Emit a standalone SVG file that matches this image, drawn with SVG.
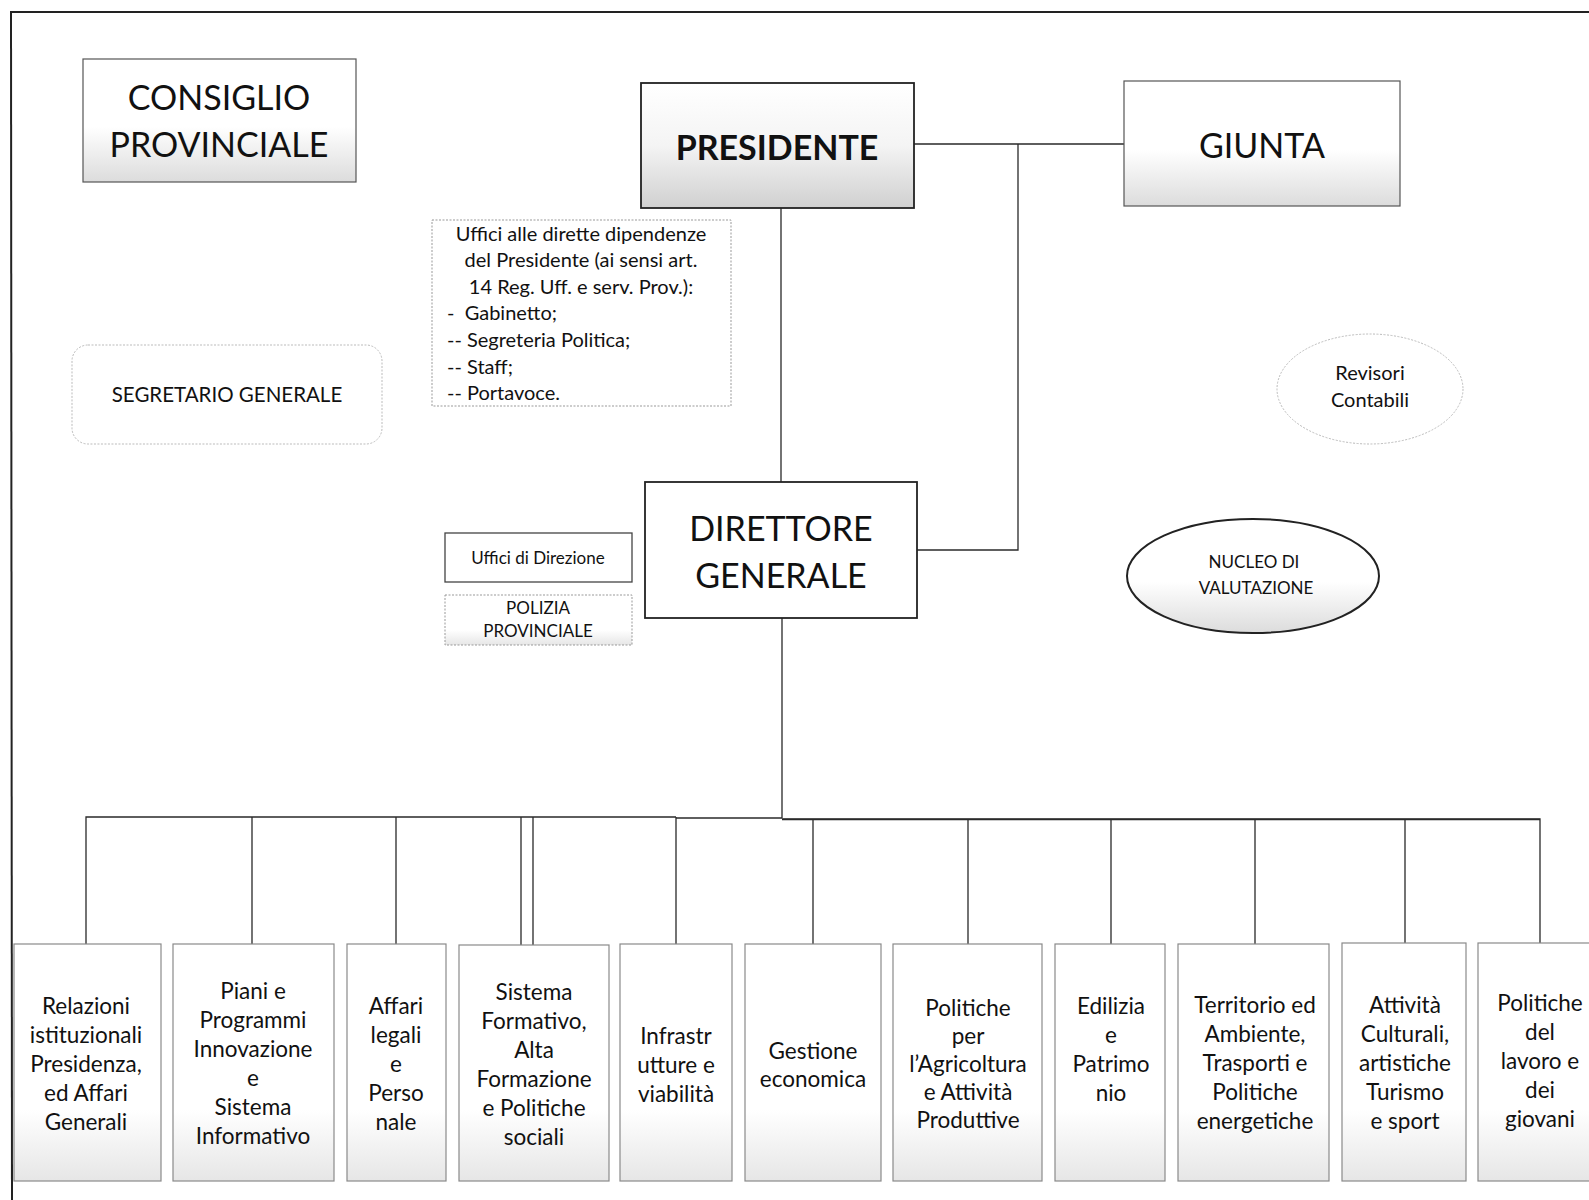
<svg xmlns="http://www.w3.org/2000/svg" width="1589" height="1200" viewBox="0 0 1589 1200">
<defs>
<linearGradient id="gLight" x1="0" y1="0" x2="0" y2="1">
<stop offset="0" stop-color="#ffffff"/><stop offset="0.55" stop-color="#ffffff"/><stop offset="1" stop-color="#dcdcdc"/>
</linearGradient>
<linearGradient id="gDark" x1="0" y1="0" x2="0" y2="1">
<stop offset="0" stop-color="#ffffff"/><stop offset="0.5" stop-color="#f4f4f4"/><stop offset="1" stop-color="#d0d0d0"/>
</linearGradient>
<linearGradient id="gBox" x1="0" y1="0" x2="0" y2="1">
<stop offset="0" stop-color="#ffffff"/><stop offset="0.7" stop-color="#ffffff"/><stop offset="1" stop-color="#e6e6e6"/>
</linearGradient>
</defs>
<style>
text{font-family:Lato,"Liberation Sans",sans-serif;fill:#111;text-anchor:middle}
.big{font-size:34px}
.bold{font-weight:bold}
.unit{font-size:22.5px}
.small{font-size:20px}
.seg{font-size:20.5px}
.tiny{font-size:17px}
.left{text-anchor:start;white-space:pre}
.box{stroke:#555;stroke-width:1.2}
.strong{stroke:#222;stroke-width:1.8}
.lbox{fill:url(#gBox);stroke:#8a8a8a;stroke-width:1.2}
.conn{fill:none;stroke:#2a2a2a;stroke-width:1.3}
</style>
<rect width="1589" height="1200" fill="#ffffff"/>
<g id="frame">
<line x1="11" y1="12" x2="1589" y2="12" stroke="#222" stroke-width="2"/>
<line x1="11" y1="11" x2="12" y2="1200" stroke="#222" stroke-width="2"/>
</g>
<g id="connectors">
<path class="conn" d="M914 144 H1124 M1018 144 V550 H917 M781 208 V482 M782 618 V818"/>
<path class="conn" d="M86 944 V817 H676 M252 817 V944 M396 817 V944 M521 817 V945 M533 817 V945 M676 817 V944"/>
<path class="conn" d="M676 818 H782" stroke-width="2"/>
<path class="conn" d="M782 819 H1540 V943 M813 819 V944 M968 819 V944 M1111 819 V944 M1255 819 V944 M1405 819 V944" stroke-width="1.4"/>
<path class="conn" d="M782 819.5 H1540" stroke-width="2.6"/>
</g>
<g id="consiglio">
<rect class="box" x="83" y="59" width="273" height="123" fill="url(#gLight)"/>
<text class="big" x="219" y="110">CONSIGLIO</text>
<text class="big" x="219" y="157">PROVINCIALE</text>
</g>
<g id="presidente">
<rect class="strong" x="641" y="83" width="273" height="125" fill="url(#gDark)"/>
<text class="big bold" x="777" y="160">PRESIDENTE</text>
</g>
<g id="giunta">
<rect class="box" x="1124" y="81" width="276" height="125" fill="url(#gLight)"/>
<text class="big" x="1262" y="158">GIUNTA</text>
</g>
<g id="uffici-presidente">
<rect x="432" y="220" width="299" height="186" fill="#fff" stroke="#999" stroke-width="1" stroke-dasharray="2,1.5"/>
<text class="small" x="581" y="241">Uffici alle dirette dipendenze</text>
<text class="small" x="581" y="267">del Presidente (ai sensi art.</text>
<text class="small" x="581" y="294">14 Reg. Uff. e serv. Prov.):</text>
<text class="small left" x="447" y="320">-  Gabinetto;</text>
<text class="small left" x="447" y="347">-- Segreteria Politica;</text>
<text class="small left" x="447" y="374">-- Staff;</text>
<text class="small left" x="447" y="400">-- Portavoce.</text>
</g>
<g id="segretario">
<rect x="72" y="345" width="310" height="99" rx="16" ry="16" fill="#fff" stroke="#bbb" stroke-width="1" stroke-dasharray="2,1.5"/>
<text class="seg" x="227" y="402">SEGRETARIO GENERALE</text>
</g>
<g id="revisori">
<ellipse cx="1370" cy="389" rx="93" ry="55" fill="#fff" stroke="#bbb" stroke-width="1" stroke-dasharray="2,1.5"/>
<text class="small" x="1370" y="380">Revisori</text>
<text class="small" x="1370" y="407">Contabili</text>
</g>
<g id="direttore">
<rect class="strong" x="645" y="482" width="272" height="136" fill="#fff"/>
<text class="big" x="781" y="541">DIRETTORE</text>
<text class="big" x="781" y="588">GENERALE</text>
</g>
<g id="uffici-direzione">
<rect x="445" y="533" width="187" height="49" fill="#fff" stroke="#444" stroke-width="1.3"/>
<text class="tiny" x="538" y="564">Uffici di Direzione</text>
</g>
<g id="polizia">
<rect x="445" y="595" width="187" height="50" fill="url(#gBox)" stroke="#999" stroke-width="1" stroke-dasharray="2,1.5"/>
<text class="tiny" x="538" y="614">POLIZIA</text>
<text class="tiny" x="538" y="637">PROVINCIALE</text>
</g>
<g id="nucleo">
<ellipse cx="1253" cy="576" rx="126" ry="57" fill="url(#gLight)" stroke="#222" stroke-width="2"/>
<text class="tiny" x="1254" y="568">NUCLEO DI</text>
<text class="tiny" x="1256" y="594">VALUTAZIONE</text>
</g>
<g id="u1">
<rect class="lbox" x="14" y="944" width="147" height="237"/>
<text class="unit" x="86" y="1014">Relazioni</text>
<text class="unit" x="86" y="1043">istituzionali</text>
<text class="unit" x="86" y="1072">Presidenza,</text>
<text class="unit" x="86" y="1101">ed Affari</text>
<text class="unit" x="86" y="1130">Generali</text>
</g>
<g id="u2">
<rect class="lbox" x="173" y="944" width="161" height="237"/>
<text class="unit" x="253" y="999">Piani e</text>
<text class="unit" x="253" y="1028">Programmi</text>
<text class="unit" x="253" y="1057">Innovazione</text>
<text class="unit" x="253" y="1086">e</text>
<text class="unit" x="253" y="1115">Sistema</text>
<text class="unit" x="253" y="1144">Informativo</text>
</g>
<g id="u3">
<rect class="lbox" x="347" y="944" width="99" height="237"/>
<text class="unit" x="396" y="1014">Affari</text>
<text class="unit" x="396" y="1043">legali</text>
<text class="unit" x="396" y="1072">e</text>
<text class="unit" x="396" y="1101">Perso</text>
<text class="unit" x="396" y="1130">nale</text>
</g>
<g id="u4">
<rect class="lbox" x="459" y="945" width="150" height="236"/>
<text class="unit" x="534" y="1000">Sistema</text>
<text class="unit" x="534" y="1029">Formativo,</text>
<text class="unit" x="534" y="1058">Alta</text>
<text class="unit" x="534" y="1087">Formazione</text>
<text class="unit" x="534" y="1116">e Politiche</text>
<text class="unit" x="534" y="1145">sociali</text>
</g>
<g id="u5">
<rect class="lbox" x="620" y="944" width="112" height="237"/>
<text class="unit" x="676" y="1044">Infrastr</text>
<text class="unit" x="676" y="1073">utture e</text>
<text class="unit" x="676" y="1102">viabilità</text>
</g>
<g id="u6">
<rect class="lbox" x="745" y="944" width="136" height="237"/>
<text class="unit" x="813" y="1059">Gestione</text>
<text class="unit" x="813" y="1087">economica</text>
</g>
<g id="u7">
<rect class="lbox" x="893" y="944" width="149" height="237"/>
<text class="unit" x="968" y="1016">Politiche</text>
<text class="unit" x="968" y="1044">per</text>
<text class="unit" x="968" y="1072">l’Agricoltura</text>
<text class="unit" x="968" y="1100">e Attività</text>
<text class="unit" x="968" y="1128">Produttive</text>
</g>
<g id="u8">
<rect class="lbox" x="1055" y="944" width="110" height="237"/>
<text class="unit" x="1111" y="1014">Edilizia</text>
<text class="unit" x="1111" y="1043">e</text>
<text class="unit" x="1111" y="1072">Patrimo</text>
<text class="unit" x="1111" y="1101">nio</text>
</g>
<g id="u9">
<rect class="lbox" x="1178" y="944" width="151" height="237"/>
<text class="unit" x="1255" y="1013">Territorio ed</text>
<text class="unit" x="1255" y="1042">Ambiente,</text>
<text class="unit" x="1255" y="1071">Trasporti e</text>
<text class="unit" x="1255" y="1100">Politiche</text>
<text class="unit" x="1255" y="1129">energetiche</text>
</g>
<g id="u10">
<rect class="lbox" x="1342" y="943" width="124" height="238"/>
<text class="unit" x="1405" y="1013">Attività</text>
<text class="unit" x="1405" y="1042">Culturali,</text>
<text class="unit" x="1405" y="1071">artistiche</text>
<text class="unit" x="1405" y="1100">Turismo</text>
<text class="unit" x="1405" y="1129">e sport</text>
</g>
<g id="u11">
<rect class="lbox" x="1478" y="943" width="120" height="238"/>
<text class="unit" x="1540" y="1011">Politiche</text>
<text class="unit" x="1540" y="1040">del</text>
<text class="unit" x="1540" y="1069">lavoro e</text>
<text class="unit" x="1540" y="1098">dei</text>
<text class="unit" x="1540" y="1127">giovani</text>
</g>
</svg>
